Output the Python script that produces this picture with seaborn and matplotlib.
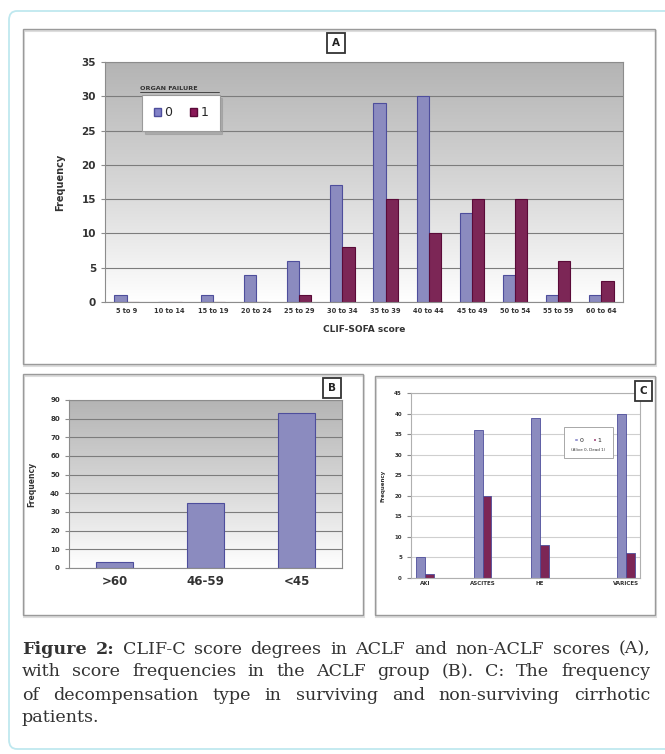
import numpy as np
import pandas as pd
import matplotlib
matplotlib.use("Agg")
import matplotlib.pyplot as plt
import seaborn as sns
from matplotlib.patches import Rectangle, FancyBboxPatch, Patch
from matplotlib.lines import Line2D
from matplotlib.colors import LinearSegmentedColormap

# ---- data ----
# panel A: CLIF-SOFA score bins, split by organ failure (0 / 1)
score_bins = ["5 to 9", "10 to 14", "15 to 19", "20 to 24", "25 to 29", "30 to 34",
              "35 to 39", "40 to 44", "45 to 49", "50 to 54", "55 to 59", "60 to 64"]
no_failure = [1, 0, 1, 4, 6, 17, 29, 30, 13, 4, 1, 1]
organ_failure = [0, 0, 0, 0, 1, 8, 15, 10, 15, 15, 6, 3]

# panel B: CLIF-C score groups in ACLF
aclf_groups = [">60", "46-59", "<45"]
aclf_freq = [3, 35, 83]

# panel C: decompensation type, alive (0) / dead (1)
decomp_slots = ["AKI", "s1", "ASCITES", "s2", "HE", "s3", "s4", "VARICES"]
decomp_labels = ["AKI", "", "ASCITES", "", "HE", "", "", "VARICES"]
decomp_types = ["AKI", "ASCITES", "HE", "VARICES"]
alive = [5, 36, 39, 40]
dead = [1, 20, 8, 6]

caption_lines = [
    "Figure 2: CLIF-C score degrees in ACLF and non-ACLF scores (A),",
    "with score frequencies in the ACLF group (B). C: The frequency",
    "of decompensation type in surviving and non-surviving cirrhotic",
    "patients.",
]

BLUE = "#8282c8"
BLUE_EDGE = "#4e4e9c"
MAROON = "#8a1858"
MAROON_EDGE = "#5a0a38"
TXT = "#333333"

sns.set_theme(style="white")
plt.rcParams["font.family"] = ["DejaVu Sans"]

W, H = 665, 754
fig = plt.figure(figsize=(W / 100, H / 100), dpi=100)


def rect(x0, y0, x1, y1):
    # pixel box (top-left origin) -> figure fraction
    return [x0 / W, 1 - y1 / H, (x1 - x0) / W, (y1 - y0) / H]


def fx(x):
    return x / W


def fy(y):
    return 1 - y / H


# outer cyan frame and panel boxes
fig.patches.append(FancyBboxPatch((fx(9), fy(749)), fx(720), fy(11) - fy(749),
                                  boxstyle="round,pad=0,rounding_size=0.012",
                                  transform=fig.transFigure, fill=False,
                                  edgecolor="#bfe8ef", lw=1.3))
for (x0, y0, x1, y1) in [(23, 29, 655, 364), (23, 374, 363, 615), (375, 376, 655, 615)]:
    fig.patches.append(Rectangle((fx(x0) + 0.002, fy(y1) - 0.002), fx(x1 - x0), fy(y0) - fy(y1),
                                 transform=fig.transFigure, fill=False,
                                 edgecolor="#dddddd", lw=1.5))
    fig.patches.append(Rectangle((fx(x0), fy(y1)), fx(x1 - x0), fy(y0) - fy(y1),
                                 transform=fig.transFigure, fill=False,
                                 edgecolor="#9a9a9a", lw=1.0))

grad_cmap = LinearSegmentedColormap.from_list("xl", ["#b4b4b4", "#d6d6d6", "#ffffff"])
grad = np.linspace(0, 1, 256).reshape(-1, 1)


def gradient_axes(r):
    bg = fig.add_axes(r, zorder=0)
    bg.imshow(grad, cmap=grad_cmap, aspect="auto", extent=[0, 1, 0, 1], origin="upper")
    bg.axis("off")
    ax = fig.add_axes(r, zorder=1)
    ax.set_facecolor("none")
    return ax


def style_axes(ax, n, grid_color, tick_size):
    ax.set_xlim(-0.5, n - 0.5)
    ax.yaxis.grid(True, color=grid_color, lw=0.8)
    ax.xaxis.grid(False)
    ax.set_axisbelow(True)
    for s in ax.spines.values():
        s.set_color("#8c8c8c")
        s.set_linewidth(0.8)
    ax.set_xticks(np.arange(-0.5, n, 1), minor=True)
    ax.tick_params(axis="x", which="major", length=0, pad=4)
    ax.tick_params(axis="x", which="minor", length=4, direction="inout", color="#8c8c8c", width=0.8)
    ax.tick_params(axis="y", length=3, direction="out", color="#8c8c8c", width=0.8,
                   labelsize=tick_size, left=True)
    for lab in ax.get_yticklabels():
        lab.set_fontweight("bold")
        lab.set_color(TXT)


# ---- panel A ----
ax_a = gradient_axes(rect(105, 62, 623, 302))
df_a = pd.DataFrame({
    "score": score_bins * 2,
    "freq": no_failure + organ_failure,
    "organ": ["0"] * len(score_bins) + ["1"] * len(score_bins),
})
sns.barplot(data=df_a, x="score", y="freq", hue="organ", order=score_bins,
            hue_order=["0", "1"], palette=[BLUE, MAROON], width=0.56,
            errorbar=None, legend=False, ax=ax_a, linewidth=0.8)
for bar, col in zip(ax_a.patches, [BLUE_EDGE] * 12 + [MAROON_EDGE] * 12):
    bar.set_edgecolor(col)
ax_a.set_ylim(0, 35)
ax_a.set_yticks(range(0, 36, 5))
style_axes(ax_a, len(score_bins), "#7c7c7c", 7.5)
ax_a.set_xticklabels(score_bins, fontsize=4.8, fontweight="bold", color=TXT)
ax_a.set_xlabel("CLIF-SOFA score", fontsize=6.5, fontweight="bold", color=TXT, labelpad=8)
ax_a.set_ylabel("Frequency", fontsize=7, fontweight="bold", color=TXT, labelpad=12)

leg_a = ax_a.legend(handles=[Patch(facecolor=BLUE, edgecolor=BLUE_EDGE),
                             Patch(facecolor=MAROON, edgecolor=MAROON_EDGE)],
                    labels=["0", "1"], ncol=2, loc="center",
                    bbox_to_anchor=(fx(181), fy(113)), bbox_transform=fig.transFigure,
                    fontsize=9, handlelength=0.55, handleheight=0.55, handletextpad=0.3,
                    columnspacing=1.4, borderpad=0.9, fancybox=False, frameon=True,
                    edgecolor="#9a9a9a", shadow={"color": "#999999", "alpha": 0.6})
leg_a.get_frame().set_linewidth(0.8)
fig.text(fx(140), fy(88), "ORGAN FAILURE", fontsize=4.6, fontweight="bold",
         color=TXT, ha="left", va="center")
fig.add_artist(Line2D([fx(140), fx(219)], [fy(92), fy(92)], lw=0.6, color=TXT))

# ---- panel B ----
ax_b = gradient_axes(rect(69, 400, 342, 568))
sns.barplot(x=aclf_groups, y=aclf_freq, order=aclf_groups, color=BLUE, width=0.41,
            errorbar=None, ax=ax_b, linewidth=0.8, edgecolor=BLUE_EDGE)
ax_b.set_ylim(0, 90)
ax_b.set_yticks(range(0, 91, 10))
style_axes(ax_b, len(aclf_groups), "#7c7c7c", 5)
ax_b.set_xticklabels(aclf_groups, fontsize=8.5, fontweight="bold", color=TXT)
ax_b.tick_params(axis="x", which="major", pad=5)
ax_b.set_ylabel("Frequency", fontsize=5.5, fontweight="bold", color=TXT, labelpad=10)
ax_b.set_xlabel("")

# ---- panel C ----
ax_c = fig.add_axes(rect(411, 393, 640, 578), zorder=1)
ax_c.set_facecolor("white")
df_c = pd.DataFrame({
    "type": decomp_types * 2,
    "freq": alive + dead,
    "status": ["0"] * len(decomp_types) + ["1"] * len(decomp_types),
})
sns.barplot(data=df_c, x="type", y="freq", hue="status", order=decomp_slots,
            hue_order=["0", "1"], palette=[BLUE, MAROON], width=0.62,
            errorbar=None, legend=False, ax=ax_c, linewidth=0.6)
for bar in ax_c.patches:
    fc = bar.get_facecolor()
    bar.set_edgecolor(BLUE_EDGE if fc[0] > 0.4 else MAROON_EDGE)
ax_c.set_ylim(0, 45)
ax_c.set_yticks(range(0, 46, 5))
style_axes(ax_c, len(decomp_slots), "#cfcfcf", 4)
for s in ax_c.spines.values():
    s.set_color("#b0b0b0")
ax_c.set_xticklabels(decomp_labels, fontsize=4, fontweight="bold", color=TXT)
ax_c.tick_params(axis="x", which="major", pad=2)
ax_c.tick_params(axis="x", which="minor", length=3, color="#b0b0b0")
ax_c.set_ylabel("Frequency", fontsize=4, fontweight="bold", color=TXT, labelpad=6)
ax_c.set_xlabel("")

ax_c.add_patch(Rectangle((fx(564), fy(458)), fx(49), fy(427) - fy(458),
                         transform=fig.transFigure, facecolor="white",
                         edgecolor="#9a9a9a", lw=0.6, zorder=4, clip_on=False))
leg_c = ax_c.legend(handles=[Patch(facecolor=BLUE), Patch(facecolor=MAROON)],
                    labels=["0", "1"], ncol=2, loc="center",
                    bbox_to_anchor=(fx(588), fy(440)), bbox_transform=fig.transFigure,
                    fontsize=4.5, handlelength=0.5, handleheight=0.5, handletextpad=0.3,
                    columnspacing=1.5, frameon=False)
leg_c.set_zorder(6)
ax_c.text(fx(588), fy(450), "(Alive 0, Dead 1)", fontsize=3, color=TXT,
          ha="center", va="center", zorder=6, transform=fig.transFigure)

# ---- panel letters ----
for letter, (x, y) in zip("ABC", [(336, 43), (332, 388), (643, 391)]):
    fig.text(fx(x), fy(y), letter, fontsize=7.5, fontweight="bold", color="#222222",
             ha="center", va="center",
             bbox=dict(boxstyle="square,pad=0.45", facecolor="white",
                       edgecolor="#333333", lw=1.3))

# ---- caption (justified) ----
fig.canvas.draw()
renderer = fig.canvas.get_renderer()
cap_left, cap_right = 22, 650
cap_y = [649, 672, 695, 718]
for i, line in enumerate(caption_lines):
    words = line.split()
    texts = []
    for j, w in enumerate(words):
        weight = "bold" if (i == 0 and j < 2) else "normal"
        texts.append(fig.text(0, fy(cap_y[i]), w, fontsize=12.6, family="DejaVu Serif",
                              fontweight=weight, color=TXT, ha="left", va="center"))
    widths = [t.get_window_extent(renderer).width for t in texts]
    if i < len(caption_lines) - 1:
        gap = (cap_right - cap_left - sum(widths)) / (len(words) - 1)
    else:
        gap = 4
    x = cap_left
    for t, wd in zip(texts, widths):
        t.set_x(fx(x))
        x += wd + gap

fig.savefig("out.png", dpi=100)
